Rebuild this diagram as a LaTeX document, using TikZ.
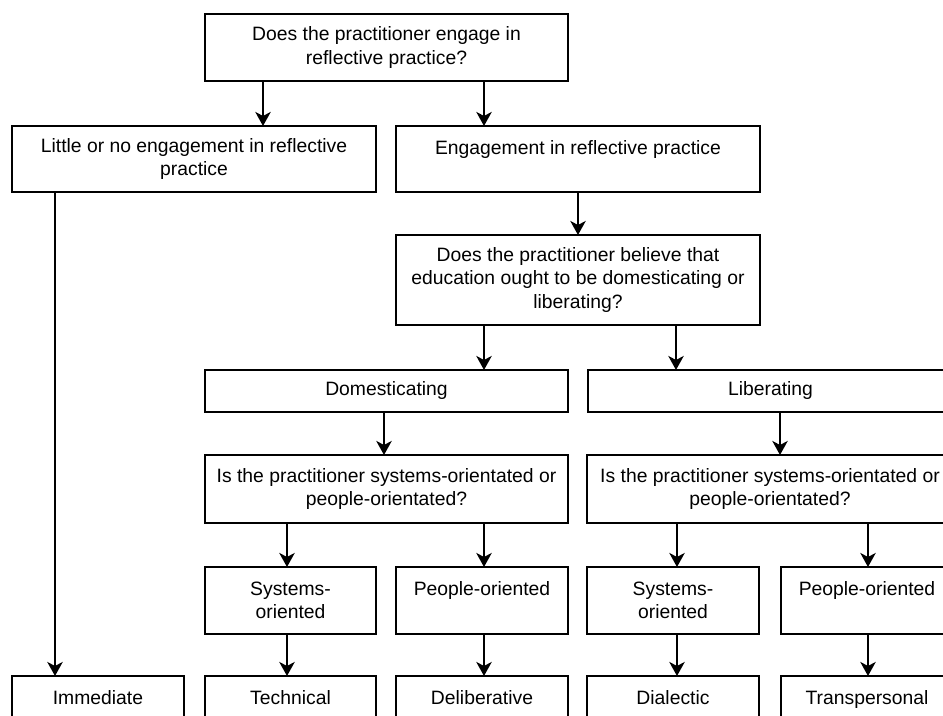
\documentclass[tikz,border=0pt]{standalone}
\usepackage{fontspec}
\setmainfont{Liberation Sans}
\usetikzlibrary{arrows.meta}
\begin{document}
\begin{tikzpicture}[x=0.75pt,y=-0.75pt,
  box/.style={draw=black, line width=1.05pt, inner sep=0pt, outer sep=0pt, align=center,
    font=\fontsize{14.5}{17.4}\selectfont},
  wh/.style n args={2}{minimum width=#1*0.75pt, minimum height=#2*0.75pt},
  arr/.style={line width=2pt, -{Stealth[length=10.5pt,width=11.5pt,inset=3pt]}}]
\path[use as bounding box, clip] (0,0) rectangle (943,716);
\fill[white] (0,0) rectangle (943,716);

% column guide coordinates for arrows
\coordinate (c55) at (55,0);
\coordinate (c263) at (263,0);
\coordinate (c484) at (484,0);
\coordinate (c578) at (578,0);
\coordinate (c676) at (676,0);
\coordinate (c384) at (384,0);
\coordinate (c780) at (780,0);
\coordinate (c287) at (287,0);
\coordinate (c677) at (677,0);
\coordinate (c868) at (868,0);

% boxes
\node[box, wh={363}{67}] (top) at (386.5,47.5) {Does the practitioner engage in\\reflective practice?};
\node[box, wh={364}{66}] (little) at (194,159) {Little or no engagement in reflective\\practice};
\node[box, wh={364}{66}] (engage) at (578,159) {Engagement in reflective practice\\~};
\node[box, wh={364}{90}] (q2) at (578,280) {Does the practitioner believe that\\education ought to be domesticating or\\liberating?};
\node[box, wh={363}{42}] (dom) at (386.5,391) {Domesticating};
\node[box, wh={365}{42}] (lib) at (770.5,391) {Liberating};
\node[box, wh={363}{68}] (q3l) at (386.5,489) {Is the practitioner systems-orientated or\\people-orientated?};
\node[box, wh={366}{68}] (q3r) at (770,489) {Is the practitioner systems-orientated or\\people-orientated?};
\node[box, wh={171}{67}] (sysl) at (290.5,600.5) {Systems-\\oriented};
\node[box, wh={172}{67}] (peol) at (482,600.5) {People-oriented\\~};
\node[box, wh={172}{67}] (sysr) at (673,600.5) {Systems-\\oriented};
\node[box, wh={172}{67}] (peor) at (867,600.5) {People-oriented\\~};
\node[box, wh={172}{67}] (imm) at (98,709.5) {Immediate\\~};
\node[box, wh={171}{67}] (tech) at (290.5,709.5) {Technical\\~};
\node[box, wh={172}{67}] (delib) at (482,709.5) {Deliberative\\~};
\node[box, wh={172}{67}] (dial) at (673,709.5) {Dialectic\\~};
\node[box, wh={172}{67}] (trans) at (867,709.5) {Transpersonal\\~};

% connectors
\draw[arr] (top.south -| c263) -- (little.north -| c263);
\draw[arr] (top.south -| c484) -- (engage.north -| c484);
\draw[arr] (little.south -| c55) -- (imm.north -| c55);
\draw[arr] (engage.south -| c578) -- (q2.north -| c578);
\draw[arr] (q2.south -| c484) -- (dom.north -| c484);
\draw[arr] (q2.south -| c676) -- (lib.north -| c676);
\draw[arr] (dom.south -| c384) -- (q3l.north -| c384);
\draw[arr] (lib.south -| c780) -- (q3r.north -| c780);
\draw[arr] (q3l.south -| c287) -- (sysl.north -| c287);
\draw[arr] (q3l.south -| c484) -- (peol.north -| c484);
\draw[arr] (q3r.south -| c677) -- (sysr.north -| c677);
\draw[arr] (q3r.south -| c868) -- (peor.north -| c868);
\draw[arr] (sysl.south -| c287) -- (tech.north -| c287);
\draw[arr] (peol.south -| c484) -- (delib.north -| c484);
\draw[arr] (sysr.south -| c677) -- (dial.north -| c677);
\draw[arr] (peor.south -| c868) -- (trans.north -| c868);
\end{tikzpicture}
\end{document}
